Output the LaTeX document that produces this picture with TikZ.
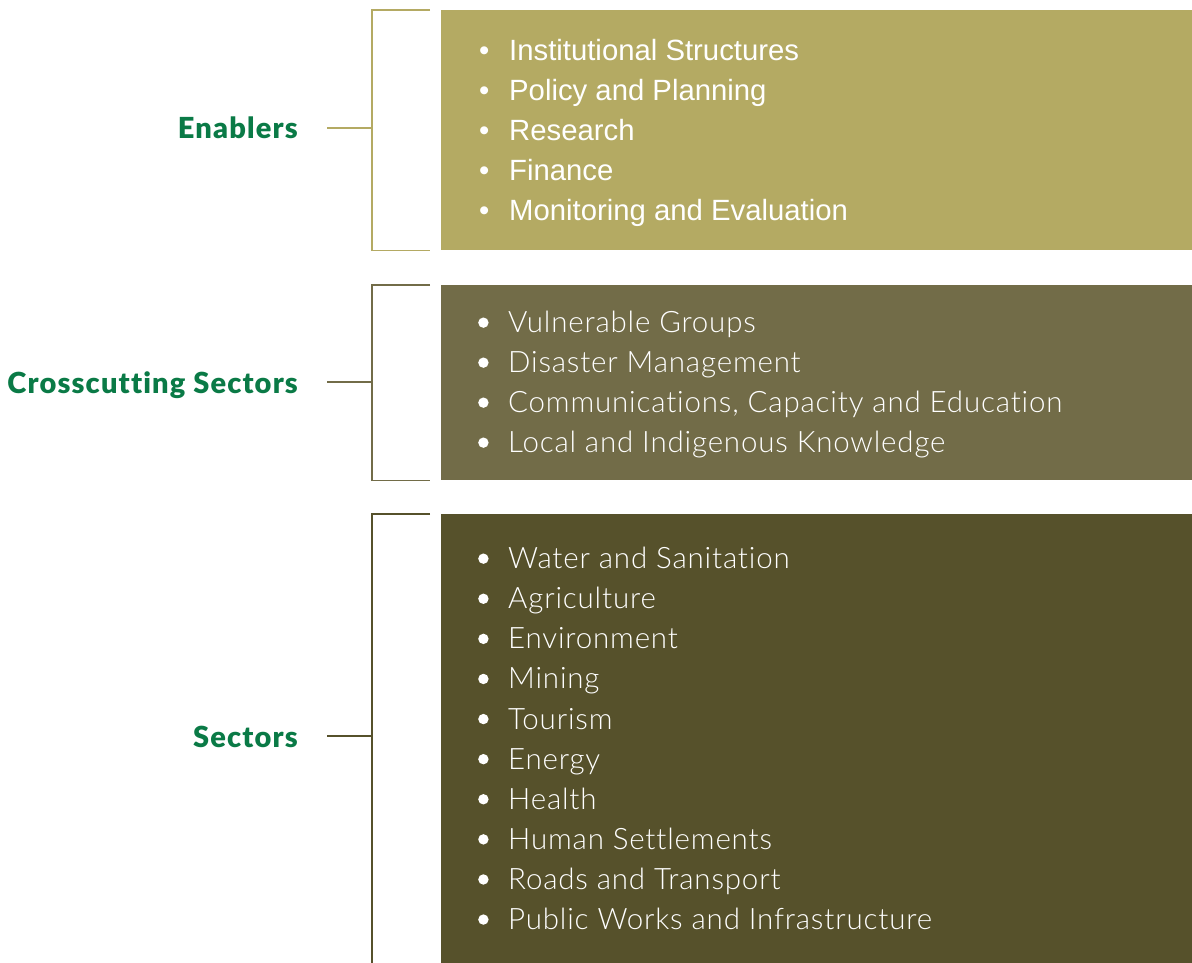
\documentclass[tikz,border=0pt]{standalone}
\usepackage{fontspec}
\setmainfont{Lato}
\newfontfamily\arialfont{Liberation Sans}
\newfontfamily\lightfont{Lato Light}[LetterSpace=2.8, Ligatures=NoCommon]
\newfontfamily\headfont{Lato Black}[LetterSpace=4, Ligatures=NoCommon]

\definecolor{gold}{RGB}{180,170,99}
\definecolor{olive}{RGB}{114,108,72}
\definecolor{darkolive}{RGB}{86,81,43}
\definecolor{labelgreen}{RGB}{10,122,70}

\newcommand{\bul}{\makebox[30pt][l]{\textbullet}}
\newcommand{\rbul}{\makebox[30pt][l]{\tikz[baseline=-10pt]\fill[white] (5pt,0pt) circle[radius=5.2pt];}}

\tikzset{
  box/.style={rectangle, anchor=north west, minimum width=751pt, inner sep=0pt, draw=none},
  lbl/.style={anchor=base east, inner sep=0pt, text=labelgreen, font=\headfont\fontsize{29}{34}\selectfont},
  lst/.style={anchor=north west, inner sep=0pt, align=left, text=white},
  brace/.style={line width=1.5pt}
}

\begin{document}
\begin{tikzpicture}[x=1pt,y=-1pt]
\useasboundingbox (0,0) rectangle (1192,963);

    % coloured panels
    \node[box, fill=gold, minimum height=240pt] (enablersBox) at (441,10) {};
    \node[box, fill=olive, minimum height=195pt] (crossBox) at (441,285) {};
    \node[box, fill=darkolive, minimum height=470pt] (sectorsBox) at (441,514) {};

    % headings on the left
    \node[lbl] (enablers) at (298,139) {Enablers};
    \node[lbl] (cross) at (298,393) {Crosscutting Sectors};
    \node[lbl] (sectors) at (298,747) {Sectors};

    % item lists
    \node[lst, font=\arialfont\fontsize{29.3}{40}\selectfont] (enablersList) at (479,39) {%
      \bul Institutional Structures\\
      \bul Policy and Planning\\
      \bul Research\\
      \bul Finance\\
      \bul Monitoring and Evaluation};
    \node[lst, font=\lightfont\fontsize{29.5}{40}\selectfont] (crossList) at (478,311) {%
      \rbul Vulnerable Groups\\
      \rbul Disaster Management\\
      \rbul Communications, Capacity and Education\\
      \rbul Local and Indigenous Knowledge};
    \node[lst, font=\lightfont\fontsize{29.5}{40.1}\selectfont] (sectorsList) at (478,547) {%
      \rbul Water and Sanitation\\
      \rbul Agriculture\\
      \rbul Environment\\
      \rbul Mining\\
      \rbul Tourism\\
      \rbul Energy\\
      \rbul Health\\
      \rbul Human Settlements\\
      \rbul Roads and Transport\\
      \rbul Public Works and Infrastructure};

    % brackets
    \coordinate (enablersSpine) at ([xshift=-69pt]enablersBox.west);
    \coordinate (crossSpine) at ([xshift=-69pt]crossBox.west);
    \coordinate (sectorsSpine) at ([xshift=-69pt]sectorsBox.west);
    \coordinate (enablersStub) at ([shift={(29pt,11pt)}]enablers.base east);
    \coordinate (crossStub) at ([shift={(29pt,11pt)}]cross.base east);
    \coordinate (sectorsStub) at ([shift={(29pt,11pt)}]sectors.base east);

    \draw[brace, gold] ([xshift=-11pt]enablersBox.north west) -| ([xshift=-69pt]enablersBox.south west) -- ([xshift=-11pt]enablersBox.south west);
    \draw[brace, gold] (enablersStub) -- (enablersStub -| enablersSpine);

    \draw[brace, olive] ([xshift=-11pt]crossBox.north west) -| ([xshift=-69pt]crossBox.south west) -- ([xshift=-11pt]crossBox.south west);
    \draw[brace, olive] (crossStub) -- (crossStub -| crossSpine);

    \draw[brace, darkolive] ([xshift=-11pt]sectorsBox.north west) -| ([xshift=-69pt]sectorsBox.south west);
    \draw[brace, darkolive] (sectorsStub) -- (sectorsStub -| sectorsSpine);

\end{tikzpicture}
\end{document}
